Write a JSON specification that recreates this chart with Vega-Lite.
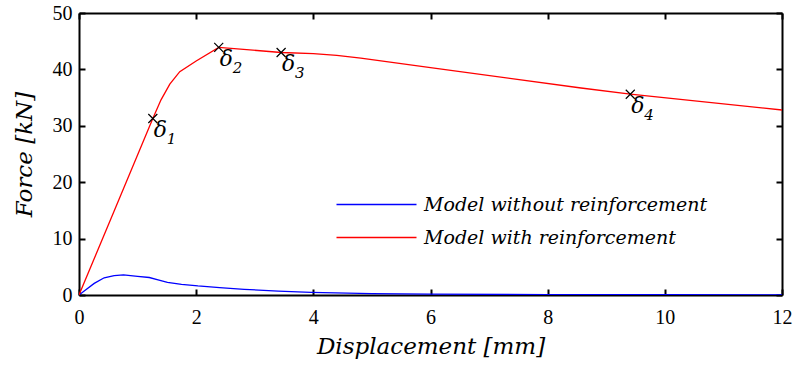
{
  "$schema": "https://vega.github.io/schema/vega-lite/v6.json",
  "autosize": "none",
  "width": 703,
  "height": 282,
  "padding": {"left": 79, "top": 13, "right": 13, "bottom": 74},
  "background": "white",
  "config": {
    "view": {"stroke": null},
    "axis": {
      "domainColor": "black",
      "domainWidth": 2,
      "tickColor": "black",
      "tickWidth": 2,
      "tickSize": -6,
      "grid": false,
      "labelFont": "Liberation Serif",
      "labelFontSize": 20,
      "labelColor": "black",
      "titleFont": "DejaVu Serif",
      "titleFontSize": 23,
      "titleFontStyle": "italic",
      "titleFontWeight": "normal",
      "titleColor": "black"
    }
  },
  "datasets": {
    "curves": [
      {"d": 0, "f": 0, "model": "Model without reinforcement"},
      {"d": 0.1, "f": 0.8, "model": "Model without reinforcement"},
      {"d": 0.26, "f": 2.06, "model": "Model without reinforcement"},
      {"d": 0.43, "f": 3.05, "model": "Model without reinforcement"},
      {"d": 0.6, "f": 3.45, "model": "Model without reinforcement"},
      {"d": 0.76, "f": 3.58, "model": "Model without reinforcement"},
      {"d": 1.0, "f": 3.3, "model": "Model without reinforcement"},
      {"d": 1.2, "f": 3.1, "model": "Model without reinforcement"},
      {"d": 1.35, "f": 2.7, "model": "Model without reinforcement"},
      {"d": 1.51, "f": 2.25, "model": "Model without reinforcement"},
      {"d": 1.75, "f": 1.9, "model": "Model without reinforcement"},
      {"d": 2.03, "f": 1.6, "model": "Model without reinforcement"},
      {"d": 2.4, "f": 1.3, "model": "Model without reinforcement"},
      {"d": 2.82, "f": 1.0, "model": "Model without reinforcement"},
      {"d": 3.4, "f": 0.7, "model": "Model without reinforcement"},
      {"d": 3.96, "f": 0.47, "model": "Model without reinforcement"},
      {"d": 5, "f": 0.25, "model": "Model without reinforcement"},
      {"d": 6, "f": 0.15, "model": "Model without reinforcement"},
      {"d": 8, "f": 0.08, "model": "Model without reinforcement"},
      {"d": 10, "f": 0.05, "model": "Model without reinforcement"},
      {"d": 12, "f": 0.03, "model": "Model without reinforcement"},
      {"d": 0, "f": 0, "model": "Model with reinforcement"},
      {"d": 0.6, "f": 14.9, "model": "Model with reinforcement"},
      {"d": 1.26, "f": 31.3, "model": "Model with reinforcement"},
      {"d": 1.4, "f": 34.6, "model": "Model with reinforcement"},
      {"d": 1.55, "f": 37.4, "model": "Model with reinforcement"},
      {"d": 1.72, "f": 39.6, "model": "Model with reinforcement"},
      {"d": 2.0, "f": 41.5, "model": "Model with reinforcement"},
      {"d": 2.385, "f": 43.9, "model": "Model with reinforcement"},
      {"d": 3.45, "f": 43.0, "model": "Model with reinforcement"},
      {"d": 4.0, "f": 42.8, "model": "Model with reinforcement"},
      {"d": 4.4, "f": 42.5, "model": "Model with reinforcement"},
      {"d": 4.81, "f": 42.0, "model": "Model with reinforcement"},
      {"d": 6, "f": 40.3, "model": "Model with reinforcement"},
      {"d": 8.57, "f": 36.7, "model": "Model with reinforcement"},
      {"d": 9.41, "f": 35.6, "model": "Model with reinforcement"},
      {"d": 12, "f": 32.8, "model": "Model with reinforcement"}
    ],
    "points": [
      {"d": 1.26, "f": 31.3, "sym": "δ", "sub": "1"},
      {"d": 2.385, "f": 43.9, "sym": "δ", "sub": "2"},
      {"d": 3.45, "f": 43.0, "sym": "δ", "sub": "3"},
      {"d": 9.41, "f": 35.6, "sym": "δ", "sub": "4"}
    ]
  },
  "layer": [
    {
      "data": {"name": "curves"},
      "mark": {"type": "line", "strokeWidth": 1.3, "clip": true},
      "encoding": {
        "x": {
          "field": "d", "type": "quantitative",
          "scale": {"domain": [0, 12], "nice": false, "zero": false},
          "axis": {"title": "Displacement [mm]", "values": [0, 2, 4, 6, 8, 10, 12], "labelPadding": 18, "titlePadding": 8, "labelFlush": false}
        },
        "y": {
          "field": "f", "type": "quantitative",
          "scale": {"domain": [0, 50], "nice": false},
          "axis": {"title": "Force [kN]", "values": [0, 10, 20, 30, 40, 50], "labelPadding": 13, "titlePadding": 16, "labelFlush": false}
        },
        "color": {
          "field": "model", "type": "nominal",
          "scale": {"domain": ["Model without reinforcement", "Model with reinforcement"], "range": ["#0000ff", "#ff0000"]},
          "legend": {
            "title": null,
            "orient": "none",
            "legendX": 288,
            "legendY": 182,
            "symbolType": "M-10,0L10,0",
            "symbolSize": 64,
            "symbolStrokeWidth": 1.5,
            "labelFont": "DejaVu Serif",
            "labelFontStyle": "italic",
            "labelFontSize": 19,
            "labelColor": "black",
            "labelOffset": 38,
            "labelLimit": 400,
            "rowPadding": 13
          }
        },
        "detail": {"field": "model"}
      }
    },
    {
      "data": {"name": "points"},
      "mark": {"type": "point", "shape": "M-1,-1L1,1M-1,1L1,-1", "size": 81, "stroke": "black", "strokeWidth": 1.2, "filled": false, "opacity": 1},
      "encoding": {
        "x": {"field": "d", "type": "quantitative", "axis": null},
        "y": {"field": "f", "type": "quantitative", "axis": null}
      }
    },
    {
      "data": {"name": "points"},
      "mark": {"type": "text", "font": "DejaVu Serif", "fontStyle": "italic", "fontSize": 22, "align": "left", "baseline": "alphabetic", "dx": 1, "dy": 19, "color": "black"},
      "encoding": {
        "x": {"field": "d", "type": "quantitative", "axis": null},
        "y": {"field": "f", "type": "quantitative", "axis": null},
        "text": {"field": "sym"}
      }
    },
    {
      "data": {"name": "points"},
      "mark": {"type": "text", "font": "DejaVu Serif", "fontStyle": "italic", "fontSize": 15, "align": "left", "baseline": "alphabetic", "dx": 14, "dy": 26, "color": "black"},
      "encoding": {
        "x": {"field": "d", "type": "quantitative", "axis": null},
        "y": {"field": "f", "type": "quantitative", "axis": null},
        "text": {"field": "sub"}
      }
    },
    {
      "data": {"name": "curves"},
      "mark": {"type": "point", "opacity": 0},
      "encoding": {
        "x": {"field": "d", "type": "quantitative", "axis": {"orient": "top", "labels": false, "title": null, "values": [0, 2, 4, 6, 8, 10, 12]}},
        "y": {"field": "f", "type": "quantitative", "axis": {"orient": "right", "labels": false, "title": null, "values": [0, 10, 20, 30, 40, 50]}}
      }
    }
  ],
  "resolve": {"axis": {"x": "independent", "y": "independent"}}
}
